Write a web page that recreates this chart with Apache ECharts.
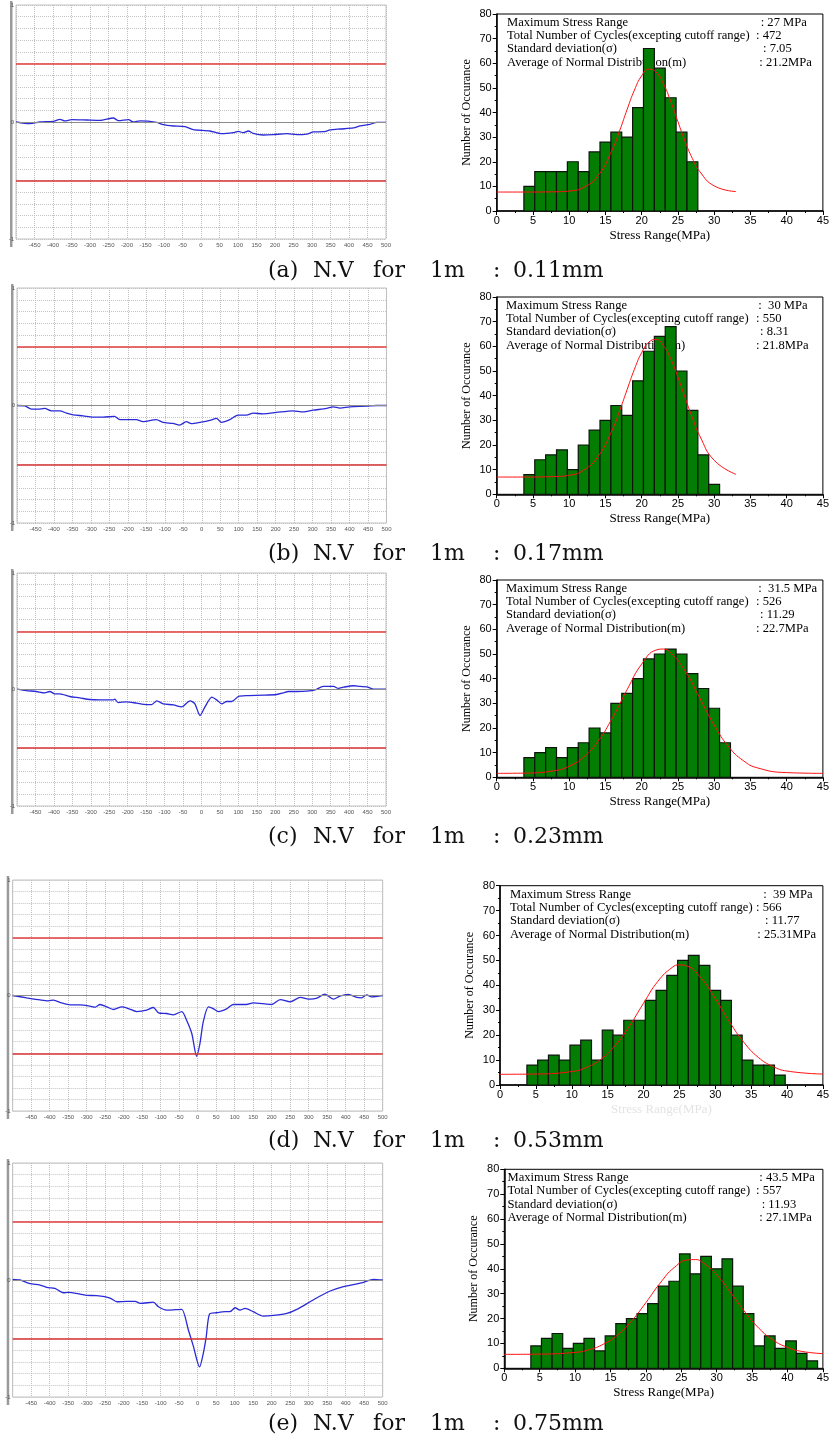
<!DOCTYPE html>
<html>
<head>
<meta charset="utf-8">
<script src="https://cdn.jsdelivr.net/npm/echarts@6/dist/echarts.min.js"></script>
<style>
  html, body { margin: 0; padding: 0; background: #fff; }
  #chart { width: 832px; height: 1436px; }
</style>
</head>
<body>
<div id="chart"></div>
<script>
// ---- deflection profiles [position(mm), value] ----
const profileA = [[-500,0],[-462,-0.014],[-435,0],[-399,0.006],[-381,0.023],[-368,0.009],[-350,0.02],[-309,0.017],[-273,0.014],[-237,0.034],[-223,0.011],[-196,0.02],[-183,0],[-165,0.009],[-120,-0.003],[-102,-0.023],[-75,-0.034],[-43,-0.04],[-21,-0.066],[24,-0.077],[56,-0.1],[87,-0.091],[101,-0.08],[114,-0.091],[128,-0.077],[141,-0.097],[168,-0.111],[195,-0.108],[232,-0.1],[259,-0.108],[286,-0.103],[304,-0.085],[331,-0.083],[349,-0.068],[376,-0.06],[412,-0.051],[430,-0.034],[457,-0.02],[475,-0.003],[500,-0.003]]
const profileB = [[-500,0],[-479,-0.003],[-461,-0.031],[-443,-0.031],[-425,-0.025],[-407,-0.045],[-384,-0.045],[-366,-0.065],[-348,-0.079],[-321,-0.088],[-294,-0.099],[-267,-0.099],[-236,-0.093],[-222,-0.121],[-177,-0.121],[-159,-0.138],[-123,-0.121],[-105,-0.144],[-78,-0.153],[-60,-0.167],[-42,-0.138],[-28,-0.155],[-5,-0.144],[22,-0.127],[40,-0.11],[53,-0.144],[76,-0.121],[98,-0.082],[121,-0.082],[139,-0.065],[166,-0.071],[202,-0.059],[247,-0.045],[274,-0.054],[301,-0.04],[338,-0.025],[356,-0.011],[374,-0.023],[401,-0.011],[446,-0.006],[473,0],[500,0]]
const profileC = [[-500,0.003],[-475,-0.009],[-448,-0.017],[-425,-0.029],[-411,-0.017],[-398,-0.037],[-384,-0.037],[-357,-0.06],[-330,-0.072],[-303,-0.086],[-276,-0.089],[-239,-0.089],[-235,-0.083],[-226,-0.112],[-203,-0.106],[-176,-0.117],[-149,-0.129],[-135,-0.129],[-121,-0.097],[-104,-0.123],[-76,-0.132],[-54,-0.149],[-31,-0.097],[-18,-0.123],[-4,-0.223],[9,-0.152],[28,-0.066],[41,-0.089],[55,-0.123],[68,-0.103],[82,-0.103],[100,-0.06],[123,-0.052],[168,-0.049],[204,-0.043],[222,-0.029],[235,-0.017],[258,-0.017],[285,-0.014],[308,-0.003],[330,0.026],[358,0.026],[371,0.009],[385,0.02],[412,0.032],[430,0.026],[448,0.023],[467,0.003],[500,0.003]]
const profileD = [[-500,0],[-462,-0.02],[-426,-0.038],[-404,-0.046],[-390,-0.04],[-368,-0.064],[-345,-0.081],[-318,-0.081],[-291,-0.092],[-277,-0.101],[-264,-0.078],[-246,-0.098],[-228,-0.121],[-205,-0.098],[-187,-0.113],[-165,-0.139],[-138,-0.127],[-120,-0.104],[-106,-0.15],[-84,-0.156],[-66,-0.168],[-43,-0.139],[-30,-0.214],[-16,-0.329],[-3,-0.526],[6,-0.416],[15,-0.228],[29,-0.098],[42,-0.113],[56,-0.139],[78,-0.116],[96,-0.078],[132,-0.078],[150,-0.064],[186,-0.075],[200,-0.078],[223,-0.035],[250,-0.055],[277,-0.017],[304,-0.032],[322,-0.023],[344,0.012],[367,-0.032],[384,-0.006],[407,0.009],[430,-0.017],[443,-0.02],[457,0.006],[470,-0.012],[500,0]]
const profileE = [[-500,0.006],[-480,0],[-453,-0.031],[-426,-0.043],[-404,-0.066],[-386,-0.071],[-363,-0.109],[-350,-0.106],[-318,-0.12],[-300,-0.131],[-273,-0.134],[-237,-0.154],[-218,-0.186],[-192,-0.183],[-169,-0.183],[-155,-0.2],[-120,-0.189],[-106,-0.229],[-84,-0.257],[-61,-0.254],[-43,-0.251],[-25,-0.429],[-12,-0.563],[5,-0.743],[15,-0.629],[23,-0.486],[32,-0.291],[51,-0.28],[74,-0.271],[87,-0.271],[101,-0.237],[114,-0.257],[128,-0.243],[150,-0.271],[177,-0.309],[205,-0.303],[241,-0.286],[268,-0.251],[304,-0.186],[331,-0.137],[358,-0.094],[394,-0.057],[421,-0.04],[448,-0.02],[475,0.006],[500,0]]

// ---- histograms: counts per 1.5 MPa bin, first bin centred at 4.5 MPa ----
const binStart = 4.5
const binWidth = 1.5
const countsA = [10,16,16,16,20,16,24,28,32,30,42,66,58,46,32,20]
const countsB = [8,14,16,18,10,20,26,30,36,32,46,58,64,68,50,34,16,4]
const countsC = [8,10,12,8,12,14,20,18,30,34,40,48,50,52,50,42,36,28,14]
const countsD = [8,10,12,10,16,18,10,22,20,26,26,34,38,44,50,52,48,38,34,20,10,8,8,4]
const countsE = [9,12,14,8,10,12,7,13,18,20,22,26,33,35,46,38,45,40,44,33,22,9,13,8,11,6,3]

// ---- fitted normal curves [MPa, count] ----
const curveA = [[0,7.7],[4,7.7],[8,7.8],[10,8.1],[12,9.6],[14,14.4],[16,25.3],[17,32.9],[18,41.3],[19,49.1],[20,54.9],[21,57.6],[22,56.4],[23,51.7],[24,44.6],[25,36.3],[26,28.2],[27,21.3],[28,16.1],[30,10.2],[33,7.9]]
const curveB = [[0,7],[4,7],[8,7.2],[10,7.7],[12,9.8],[14,15.4],[16,26.5],[17,34.2],[18,42.5],[19,50.7],[20,57.4],[21,61.7],[22,62.8],[23,60.3],[24,55],[25,47.5],[26,39.1],[27,31],[28,23.8],[30,13.8],[33,8.1]]
const curveC = [[0,1.6],[4,1.7],[8,2.7],[10,4.5],[12,8.2],[14,14.7],[16,24.3],[18,35.6],[20,45.9],[22,51.6],[23,52],[24,50.5],[26,43.1],[28,32.2],[30,21.2],[32,12.4],[34,6.8],[36,3.8],[40,1.9],[45,1.6]]
const curveD = [[0,4.3],[5,4.4],[10,5.4],[12,7],[14,10.2],[16,15.7],[18,23.5],[20,32.8],[22,41.6],[24,47.2],[25,48.2],[26,47.8],[28,43],[30,34.7],[32,25.3],[34,17.1],[36,11.1],[38,7.5],[40,5.6],[45,4.4]]
const curveE = [[0,5.6],[5,5.7],[10,6.4],[12,7.5],[14,9.7],[16,13.4],[18,19.1],[20,26.4],[22,34.2],[24,40.5],[26,43.6],[27,43.7],[28,42.6],[30,37.6],[32,30.3],[34,22.6],[36,16],[38,11.3],[40,8.4],[42,6.8],[45,5.9]]

// ---- text ----
const statLabels = ['Maximum Stress Range', 'Total Number of Cycles(excepting cutoff range)', 'Standard deviation(\u03c3)', 'Average of Normal Distribution(m)']
const statsA = [': 27 MPa', ': 472', ': 7.05', ': 21.2MPa']
const statsB = [':  30 MPa', ': 550', ': 8.31', ': 21.8MPa']
const statsC = [':  31.5 MPa', ': 526', ': 11.29', ': 22.7MPa']
const statsD = [':  39 MPa', ': 566', ': 11.77', ': 25.31MPa']
const statsE = [': 43.5 MPa', ': 557', ': 11.93', ': 27.1MPa']
const captionLetters = ['(a)', '(b)', '(c)', '(d)', '(e)']
const captionValues = ['0.11mm', '0.17mm', '0.23mm', '0.53mm', '0.75mm']

const serif = '"Liberation Serif", "Times New Roman", serif'
const sans = '"Liberation Sans", Arial, sans-serif'

// panel placement [left, top, width, height]
const rows = [
  { profile: profileA, counts: countsA, curve: curveA, stats: statsA,
    prof: [16, 5, 370, 234], hist: [496.7, 14, 329.3, 197], cap: 271, textX: 507, valX: [760.7, 756, 763, 759.3], nameColor: '#000' },
  { profile: profileB, counts: countsB, curve: curveB, stats: statsB,
    prof: [17, 288, 369.5, 235], hist: [496.7, 297, 329.3, 197.3], cap: 554, textX: 506, valX: [758.3, 756, 760, 756], nameColor: '#000' },
  { profile: profileC, counts: countsC, curve: curveC, stats: statsC,
    prof: [17, 573, 369, 233], hist: [496.7, 580, 329.3, 197.3], cap: 837, textX: 506, valX: [758.3, 756, 760, 756], nameColor: '#000' },
  { profile: profileD, counts: countsD, curve: curveD, stats: statsD,
    prof: [12.7, 880, 370, 231], hist: [500, 885.7, 328.3, 199.3], cap: 1141, textX: 510, valX: [763.3, 756, 765, 757.3], nameColor: '#e4e4e4' },
  { profile: profileE, counts: countsE, curve: curveE, stats: statsE,
    prof: [12.7, 1163, 370, 234], hist: [504.3, 1169.3, 324, 199], cap: 1424, textX: 507.5, valX: [759.3, 756, 761.7, 759.3], nameColor: '#000' }
]

const captionWordX = [268, 313, 373, 430, 493, 513]

const grids = []
const xAxes = []
const yAxes = []
const series = []
const graphics = []

rows.forEach((row, i) => {
  const pg = grids.length
  // --- left: deflection profile ---
  grids.push({
    left: row.prof[0], top: row.prof[1], width: row.prof[2], height: row.prof[3],
    show: true, borderColor: '#c2c2c2', borderWidth: 1, backgroundColor: '#fff'
  })
  xAxes.push({
    gridIndex: pg, type: 'value', min: -500, max: 500, interval: 50,
    axisLine: { show: false }, axisTick: { show: false },
    axisLabel: {
      fontSize: 6, color: '#555', margin: 3, fontFamily: sans, interval: 0, hideOverlap: false,
      formatter: v => (v === -500 ? '' : String(v))
    },
    splitLine: { show: true, lineStyle: { color: '#bdbdbd', type: 'dotted', width: 1 } }
  })
  yAxes.push({
    gridIndex: pg, type: 'value', min: -1, max: 1, interval: 0.1,
    axisLine: { show: false }, axisTick: { show: false },
    axisLabel: {
      fontSize: 6, color: '#555', margin: 2, fontFamily: sans,
      formatter: v => {
        const r = Math.round(v * 10)
        return r === 10 ? '1' : r === 0 ? '0' : r === -10 ? '-1' : ''
      }
    },
    splitLine: { show: true, lineStyle: { color: '#c4c4c4', type: 'dotted', width: 1 } }
  })
  series.push({
    type: 'line', xAxisIndex: pg, yAxisIndex: pg, data: [], silent: true, z: 1,
    markLine: {
      silent: true, symbol: 'none', label: { show: false }, animation: false,
      data: [
        { yAxis: 0, lineStyle: { color: '#8c8c8c', width: 1, type: 'solid' } },
        { yAxis: 0.5, lineStyle: { color: '#e03c3c', width: 1.5, type: 'solid' } },
        { yAxis: -0.5, lineStyle: { color: '#d83232', width: 1.5, type: 'solid' } }
      ]
    }
  })
  series.push({
    type: 'line', xAxisIndex: pg, yAxisIndex: pg, data: row.profile, z: 3,
    showSymbol: false, smooth: 0.25, silent: true,
    lineStyle: { color: '#2a2ad6', width: 1.3 }
  })
  graphics.push({
    type: 'rect', silent: true,
    shape: { x: row.prof[0] - 6, y: row.prof[1] - 4, width: 2.5, height: row.prof[3] + 12 },
    style: { fill: '#9a9a9a' }
  })

  // --- right: stress range histogram ---
  const hg = grids.length
  grids.push({
    left: row.hist[0], top: row.hist[1], width: row.hist[2], height: row.hist[3],
    show: true, borderColor: '#000', borderWidth: 1
  })
  xAxes.push({
    gridIndex: hg, type: 'value', min: 0, max: 45, interval: 5,
    name: 'Stress Range(MPa)', nameLocation: 'middle', nameGap: 18,
    nameTextStyle: { fontFamily: serif, fontSize: 13, color: row.nameColor },
    axisLine: { show: true, onZero: false, lineStyle: { color: '#000', width: 1.5 } },
    axisTick: { show: true, length: 4, lineStyle: { color: '#000' } },
    minorTick: { show: true, splitNumber: 2, length: 2, lineStyle: { color: '#000' } },
    axisLabel: { fontSize: 11, color: '#000', margin: 4, fontFamily: sans },
    splitLine: { show: false }
  })
  yAxes.push({
    gridIndex: hg, type: 'value', min: 0, max: 80, interval: 10,
    name: 'Number of Occurance', nameLocation: 'middle', nameGap: 24,
    nameTextStyle: { fontFamily: serif, fontSize: 12, color: '#000' },
    axisLine: { show: true, onZero: false, lineStyle: { color: '#000', width: 1.5 } },
    axisTick: { show: true, length: 4, lineStyle: { color: '#000' } },
    minorTick: { show: true, splitNumber: 2, length: 2, lineStyle: { color: '#000' } },
    axisLabel: { fontSize: 11, color: '#000', margin: 5, fontFamily: sans },
    splitLine: { show: false }
  })
  series.push({
    type: 'custom', xAxisIndex: hg, yAxisIndex: hg, silent: true, z: 2,
    data: row.counts.map((c, k) => [binStart + k * binWidth, c]),
    encode: { x: 0, y: 1 },
    renderItem: (params, api) => {
      const c = api.value(0)
      const h = api.value(1)
      const p0 = api.coord([c - binWidth / 2, h])
      const p1 = api.coord([c + binWidth / 2, 0])
      return {
        type: 'rect',
        shape: { x: p0[0], y: p0[1], width: p1[0] - p0[0], height: p1[1] - p0[1] },
        style: { fill: '#037d03', stroke: '#0c140c', lineWidth: 1.2 }
      }
    }
  })
  series.push({
    type: 'line', xAxisIndex: hg, yAxisIndex: hg, data: row.curve, z: 4,
    showSymbol: false, smooth: true, silent: true,
    lineStyle: { color: '#ff1010', width: 1 }
  })

  // statistics box text
  const lineY = [8.5, 21.5, 35, 48.5]
  statLabels.forEach((label, k) => {
    graphics.push({
      type: 'text', silent: true, x: row.textX, y: row.hist[1] + lineY[k],
      style: { text: label, font: '12.6px ' + serif, fill: '#000', verticalAlign: 'middle' }
    })
    graphics.push({
      type: 'text', silent: true, x: row.valX[k], y: row.hist[1] + lineY[k],
      style: { text: row.stats[k], font: '12.6px ' + serif, fill: '#000', verticalAlign: 'middle' }
    })
  })

  // caption
  const words = [captionLetters[i], 'N.V', 'for', '1m', ':', captionValues[i]]
  words.forEach((w, k) => {
    graphics.push({
      type: 'text', silent: true, x: captionWordX[k], y: row.cap,
      style: { text: w, font: '22px "DejaVu Serif", serif', fill: '#111', verticalAlign: 'middle' }
    })
  })
})

const chart = echarts.init(document.getElementById('chart'), null, { renderer: 'canvas' })
chart.setOption({
  backgroundColor: '#fff',
  animation: false,
  grid: grids,
  xAxis: xAxes,
  yAxis: yAxes,
  series: series,
  graphic: graphics
})
</script>
</body>
</html>
